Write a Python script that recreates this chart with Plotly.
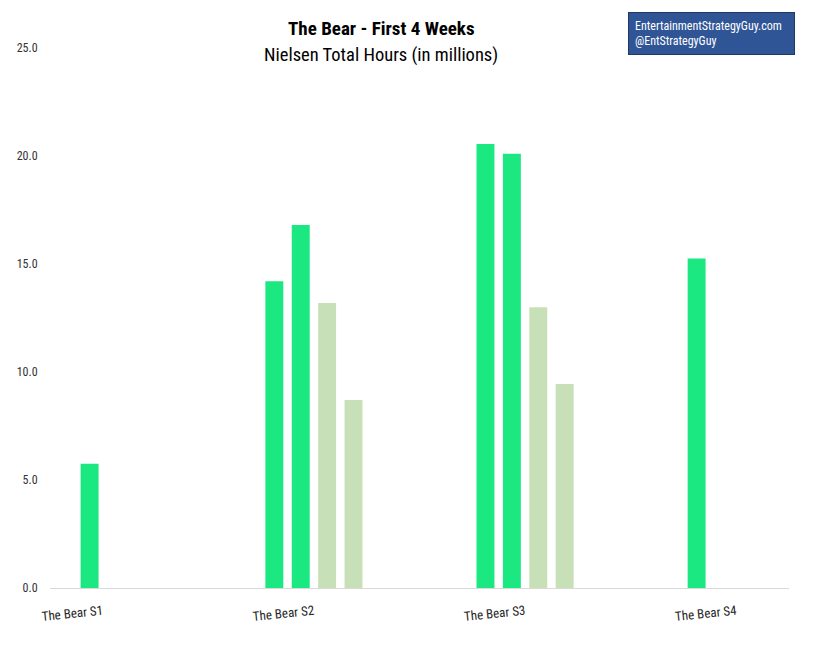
import plotly.graph_objects as go

# ---- data ----
seasons = ["The Bear S1", "The Bear S2", "The Bear S3", "The Bear S4"]
week1 = [5.75, 14.2, 20.55, 15.25]
week2 = [None, 16.8, 20.1, None]
week3 = [None, 13.2, 13.0, None]
week4 = [None, 8.7, 9.45, None]

# ---- layout / style config ----
FONT = "Roboto Condensed, Liberation Sans Narrow, sans-serif"
BRIGHT = "#1BE881"
LIGHT = "#C8E0B7"
weeks = [week1, week2, week3, week4]
week_colors = [BRIGHT, BRIGHT, LIGHT, LIGHT]
N_SLOTS = 7                      # bar slots per category in the source chart
first_slot = [1, 1, 2, 3]        # slot of week 1 within each category group
TICK_SLOTS = [2, 10, 18, 26]     # where the category labels end (slot units)

fig = go.Figure()
for j in range(N_SLOTS):
    ys, cols = [], []
    for i, s in enumerate(seasons):
        w = j - first_slot[i]
        if 0 <= w < len(weeks) and weeks[w][i] is not None:
            ys.append(weeks[w][i])
            cols.append(week_colors[w])
        else:
            ys.append(None)
            cols.append(BRIGHT)
    fig.add_trace(go.Bar(x=seasons, y=ys, marker=dict(color=cols, line=dict(width=0)),
                         showlegend=False, name=f"slot {j}"))

# invisible trace to carry the label axis
fig.add_trace(go.Scatter(x=[None], y=[None], xaxis="x2", showlegend=False, hoverinfo="skip"))

fig.update_layout(
    width=822, height=664,
    margin=dict(l=42, r=41, t=40, b=84),
    paper_bgcolor="white", plot_bgcolor="white",
    barmode="group", bargap=0, bargroupgap=0.32,
    font=dict(family=FONT, color="#404040", size=12),
    xaxis=dict(showticklabels=False, showline=True, linecolor="#D9D9D9", linewidth=1,
               showgrid=False, zeroline=False, ticks="", automargin=False),
    xaxis2=dict(overlaying="x", side="bottom", range=[0, 28], tickmode="array",
                tickvals=TICK_SLOTS, ticktext=seasons, tickangle=-6,
                showgrid=False, zeroline=False, showline=False, automargin=False,
                ticks="outside", ticklen=10, tickcolor="rgba(0,0,0,0)",
                tickfont=dict(family=FONT, size=13, color="#262626")),
    yaxis=dict(range=[0, 25], dtick=5, tickformat=".1f", showgrid=False, zeroline=False,
               showline=False, ticks="outside", ticklen=9, tickcolor="rgba(0,0,0,0)",
               automargin=False,
               tickfont=dict(family=FONT, size=12, color="#333333")),
    annotations=[
        dict(text="<b>The Bear - First 4 Weeks</b>", xref="paper", yref="paper",
             x=0.448, y=1.037, xanchor="center", yanchor="middle", showarrow=False,
             font=dict(family=FONT, size=19, color="black")),
        dict(text="Nielsen Total Hours (in millions)", xref="paper", yref="paper",
             x=0.448, y=0.987, xanchor="center", yanchor="middle", showarrow=False,
             font=dict(family=FONT, size=18.5, color="black")),
        dict(text="EntertainmentStrategyGuy.com<br>@EntStrategyGuy", xref="paper", yref="paper",
             x=0.782, y=1.0667, xanchor="left", yanchor="top", showarrow=False,
             align="left", width=153, height=29, borderpad=6,
             bgcolor="#2F5597", bordercolor="#1F3864", borderwidth=1,
             font=dict(family=FONT, size=12, color="white")),
    ],
)

fig.write_html("out.html")
